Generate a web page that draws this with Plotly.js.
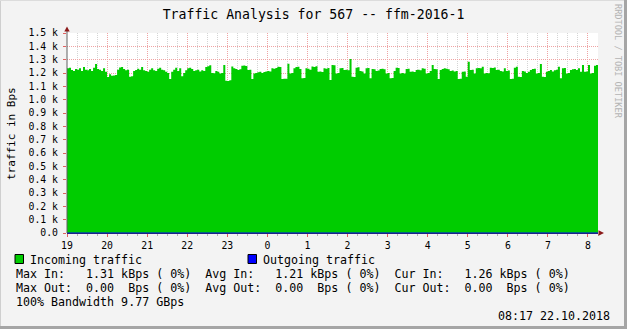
<!DOCTYPE html>
<html>
<head>
<meta charset="utf-8">
<script src="https://cdn.plot.ly/plotly-3.0.1.min.js"></script>
<style>
html,body{margin:0;padding:0;background:#f3f3f3;}
#chart{width:627px;height:329px;}
</style>
</head>
<body>
<div id="chart"></div>
<script>
// ---- data (Bps), one sample every 3 minutes starting 19:00 ----
const hourLabels = ['19','20','21','22','23','0','1','2','3','4','5','6','7','8'];
const yTickValues = [0,100,200,300,400,500,600,700,800,900,1000,1100,1200,1300,1400,1500];
const yTickLabels = ['0.0','0.1 k','0.2 k','0.3 k','0.4 k','0.5 k','0.6 k','0.7 k','0.8 k','0.9 k','1.0 k','1.1 k','1.2 k','1.3 k','1.4 k','1.5 k'];
const STEP_MIN = 3;
const incoming = [
1235,1240,1222,1215,1230,1225,1235,1215,1245,1225,
1220,1230,1215,1240,1268,1230,1225,1215,1235,1210,
1170,1190,1180,1182,1185,1225,1242,1245,1230,1220,
1225,1172,1175,1215,1222,1232,1225,1245,1220,1215,
1210,1225,1235,1220,1215,1232,1240,1225,1220,1210,
1200,1155,1210,1225,1240,1215,1235,1175,1200,1220,
1235,1240,1230,1215,1220,1225,1212,1220,1215,1245,
1250,1258,1200,1198,1215,1210,1197,1200,1260,1142,
1140,1145,1248,1235,1230,1222,1228,1255,1257,1252,
1222,1225,1155,1197,1200,1205,1210,1200,1208,1212,
1215,1212,1235,1232,1238,1247,1245,1155,1157,1156,
1270,1197,1200,1235,1245,1247,1230,1160,1162,1235,
1232,1225,1248,1245,1250,1210,1212,1208,1235,1232,
1238,1147,1260,1258,1197,1200,1235,1238,1222,1225,
1220,1305,1172,1170,1240,1243,1215,1212,1197,1235,
1237,1160,1230,1228,1215,1218,1230,1232,1228,1197,
1200,1160,1162,1215,1240,1238,1197,1200,1197,1230,
1232,1210,1212,1208,1222,1225,1220,1235,1232,1197,
1200,1215,1260,1230,1228,1155,1222,1230,1235,1232,
1228,1215,1218,1212,1215,1155,1157,1210,1212,1172,
1285,1222,1225,1197,1235,1238,1235,1247,1197,1200,
1198,1240,1238,1242,1222,1225,1215,1212,1235,1215,
1218,1155,1157,1240,1247,1172,1170,1215,1212,1200,
1210,1222,1230,1232,1197,1200,1267,1172,1170,1210,
1215,1222,1212,1220,1225,1247,1160,1235,1238,1197,
1200,1222,1228,1230,1222,1235,1210,1260,1210,1212,
1260,1197,1200,1255,1260
];
const outgoing = [
0,0,0,0,0,0,0,0,0,0,0,0,0,0,0,0,0,0,0,0,
0,0,0,0,0,0,0,0,0,0,0,0,0,0,0,0,0,0,0,0,
0,0,0,0,0,0,0,0,0,0,0,0,0,0,0,0,0,0,0,0,
0,0,0,0,0,0,0,0,0,0,0,0,0,0,0,0,0,0,0,0,
0,0,0,0,0,0,0,0,0,0,0,0,0,0,0,0,0,0,0,0,
0,0,0,0,0,0,0,0,0,0,0,0,0,0,0,0,0,0,0,0,
0,0,0,0,0,0,0,0,0,0,0,0,0,0,0,0,0,0,0,0,
0,0,0,0,0,0,0,0,0,0,0,0,0,0,0,0,0,0,0,0,
0,0,0,0,0,0,0,0,0,0,0,0,0,0,0,0,0,0,0,0,
0,0,0,0,0,0,0,0,0,0,0,0,0,0,0,0,0,0,0,0,
0,0,0,0,0,0,0,0,0,0,0,0,0,0,0,0,0,0,0,0,
0,0,0,0,0,0,0,0,0,0,0,0,0,0,0,0,0,0,0,0,
0,0,0,0,0,0,0,0,0,0,0,0,0,0,0,0,0,0,0,0,
0,0,0,0,0
];
const titleText = 'Traffic Analysis for 567 -- ffm-2016-1';
const legendIn = 'Incoming traffic';
const legendOut = 'Outgoing traffic';
const statLines = [
  'Max In:   1.31 kBps ( 0%)  Avg In:   1.21 kBps ( 0%)  Cur In:   1.26 kBps ( 0%)',
  'Max Out:  0.00  Bps ( 0%)  Avg Out:  0.00  Bps ( 0%)  Cur Out:  0.00  Bps ( 0%)',
  '100% Bandwidth 9.77 GBps'
];
const stampText = '08:17 22.10.2018';
const watermark = 'RRDTOOL / TOBI OETIKER';

// ---- geometry ----
const W = 627, H = 329, L = 67, R = 598, T = 33, B = 233;
const PW = R - L, PH = B - T;
const px = x => (x - L) / PW;
const py = y => (B - y) / PH;
const nb = s => s.replace(/ /g, '\u00a0');
const MONO = 'DejaVu Sans Mono, monospace';

const xs = incoming.map((_, i) => i * STEP_MIN);
const xEnd = incoming.length * STEP_MIN;
const inX = xs.concat([xEnd]);
const inY = incoming.concat([incoming[incoming.length - 1]]);
const outX = xs.concat([xEnd]);
const outY = outgoing.concat([outgoing[outgoing.length - 1]]);

const traces = [
  {x: inX, y: inY, type: 'scatter', mode: 'lines', line: {shape: 'hv', width: 0, color: '#00cc00'},
   fill: 'tozeroy', fillcolor: '#00cc00', hoverinfo: 'skip'},
  {x: outX, y: outY, type: 'scatter', mode: 'lines', line: {shape: 'hv', width: 1.2, color: '#0000ff'}, hoverinfo: 'skip'}
];

const ann = (text, x, y, o) => Object.assign({
  text: nb(text), xref: 'paper', yref: 'paper', x: px(x), y: py(y),
  xanchor: 'left', yanchor: 'middle', showarrow: false, borderpad: 0,
  font: {family: MONO, size: 11.65, color: '#000'}
}, o || {});

const annotations = [
  ann(legendIn, 29, 259.5),
  ann(legendOut, 262, 259.5),
  ann(statLines[0], 15, 273.5),
  ann(statLines[1], 15, 287.5),
  ann(statLines[2], 15, 301.5),
  ann(stampText, 611, 316, {xanchor: 'right'}),
  ann('traffic in Bps', 11, 134, {xanchor: 'center', textangle: -90, font: {family: MONO, size: 11, color: '#000'}}),
  ann(watermark, 618, 61, {xanchor: 'center', textangle: 90, font: {family: MONO, size: 8.6, color: '#b4b4b4'}})
];

const shapes = [
  // frame
  {type: 'rect', xref: 'paper', yref: 'paper', x0: px(0), x1: px(W), y0: py(0), y1: py(H), line: {width: 0}, fillcolor: 'rgba(0,0,0,0)'},
  {type: 'line', xref: 'paper', yref: 'paper', x0: px(0.5), x1: px(0.5), y0: py(0), y1: py(H), line: {color: '#cfcfcf', width: 1}},
  {type: 'line', xref: 'paper', yref: 'paper', x0: px(0), x1: px(W), y0: py(0.5), y1: py(0.5), line: {color: '#dcdcdc', width: 1}},
  {type: 'line', xref: 'paper', yref: 'paper', x0: px(W - 1.5), x1: px(W - 1.5), y0: py(0), y1: py(H), line: {color: '#a5a5a5', width: 3}},
  {type: 'line', xref: 'paper', yref: 'paper', x0: px(0), x1: px(W), y0: py(H - 1.5), y1: py(H - 1.5), line: {color: '#a5a5a5', width: 3}},
  // left axis extension and arrows
  {type: 'line', xref: 'paper', yref: 'paper', x0: px(67), x1: px(67), y0: py(233), y1: py(30), line: {color: '#606060', width: 1}},
  {type: 'path', xref: 'paper', yref: 'paper',
   path: `M${px(64.3)},${py(31.5)} L${px(69.7)},${py(31.5)} L${px(67)},${py(26.5)} Z`,
   fillcolor: '#8b1a1a', line: {width: 0}},
  {type: 'path', xref: 'paper', yref: 'paper',
   path: `M${px(598.5)},${py(230.3)} L${px(598.5)},${py(235.7)} L${px(604)},${py(233)} Z`,
   fillcolor: '#8b1a1a', line: {width: 0}},
  // legend boxes
  {type: 'rect', xref: 'paper', yref: 'paper', x0: px(15), x1: px(23.5), y0: py(254.5), y1: py(263.5), fillcolor: '#00cc00', line: {color: '#000', width: 1}},
  {type: 'rect', xref: 'paper', yref: 'paper', x0: px(248), x1: px(256.5), y0: py(254.5), y1: py(263.5), fillcolor: '#0000ff', line: {color: '#000', width: 1}}
];

const layout = {
  width: W, height: H,
  margin: {l: L, r: W - R, t: T, b: H - B, pad: 0},
  paper_bgcolor: '#f3f3f3', plot_bgcolor: '#ffffff',
  showlegend: false,
  title: {text: titleText, x: 0.5, xref: 'container', xanchor: 'center', y: 1 - 14 / H, yref: 'container', yanchor: 'middle',
          font: {family: MONO, size: 13.2, color: '#000'}},
  xaxis: {
    range: [0, xEnd], fixedrange: true, zeroline: false,
    tickmode: 'array', tickvals: hourLabels.map((_, i) => i * 60), ticktext: hourLabels,
    ticks: 'outside', ticklen: 3, tickcolor: '#e06060', tickwidth: 1,
    showgrid: true, gridcolor: '#efa3a3', griddash: '1px,1px', gridwidth: 1,
    minor: {dtick: 15, tick0: 0, ticks: 'outside', ticklen: 2, tickcolor: '#b0b0b0', showgrid: true, gridcolor: '#d4d4d4', griddash: '1px,1px', gridwidth: 1},
    showline: true, linecolor: '#20208a', linewidth: 1,
    tickfont: {family: MONO, size: 9.8, color: '#000'}
  },
  yaxis: {
    range: [0, 1500], fixedrange: true, zeroline: false,
    tickmode: 'array', tickvals: yTickValues, ticktext: yTickLabels,
    ticks: 'outside', ticklen: 3, tickcolor: '#e06060', tickwidth: 1, ticklabelstandoff: 3,
    showgrid: true, gridcolor: '#efa3a3', griddash: '1px,1px', gridwidth: 1,
    showline: false,
    tickfont: {family: MONO, size: 9.8, color: '#000'}
  },
  annotations: annotations,
  shapes: shapes
};

Plotly.newPlot('chart', traces, layout, {staticPlot: true, displayModeBar: false});
</script>
</body>
</html>
